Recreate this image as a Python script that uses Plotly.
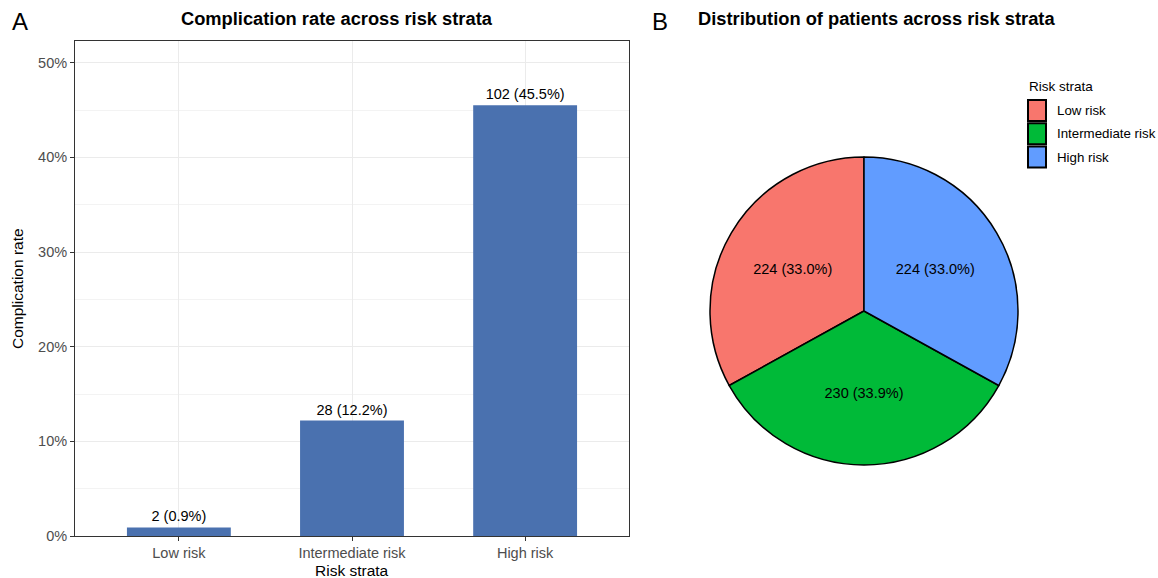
import plotly.graph_objects as go

# Risk strata and outcome data
strata = ["Low risk", "Intermediate risk", "High risk"]
complications = [2, 28, 102]
complication_rate = [0.009, 0.122, 0.455]
patients = [224, 230, 224]
patient_share = [33.0, 33.9, 33.0]
pie_colors = ["#F8766D", "#00BA38", "#619CFF"]
y_ticks = [0, 0.1, 0.2, 0.3, 0.4, 0.5]
y_tick_labels = ["0%", "10%", "20%", "30%", "40%", "50%"]

bar_text = [f"{n} ({r * 100:.1f}%)" for n, r in zip(complications, complication_rate)]
pie_text = [f"{n} ({p:.1f}%)" for n, p in zip(patients, patient_share)]

FONT = "Liberation Sans, Arial, sans-serif"
W, H = 1158, 578


def px(x, y):
    """Convert pixel position (from top-left) to paper coordinates."""
    return x / W, 1 - y / H


fig = go.Figure()

fig.add_trace(go.Bar(
    x=strata, y=complication_rate, width=0.6,
    marker=dict(color="#4A71AF", line=dict(width=0)),
    text=bar_text, textposition="outside", cliponaxis=False,
    textfont=dict(family=FONT, size=14.5, color="#000000"),
    showlegend=False, xaxis="x", yaxis="y",
))

# first slice spans from 12 o'clock counter-clockwise
first_angle = -360 * patients[0] / sum(patients)
fig.add_trace(go.Pie(
    labels=strata, values=patients, sort=False, direction="counterclockwise",
    rotation=first_angle,
    marker=dict(colors=pie_colors, line=dict(color="#000000", width=1.5)),
    text=pie_text, texttemplate="%{text}", textposition="inside",
    insidetextorientation="horizontal",
    textfont=dict(family=FONT, size=14.5, color="#000000"),
    domain=dict(x=[710 / W, 1018 / W], y=[1 - 466 / H, 1 - 156 / H]),
    showlegend=False, hoverinfo="label+value+percent",
))

annotations = []
shapes = []


def add_text(text, x, y, size, xanchor="center", bold=False, angle=0, color="#000000"):
    xp, yp = px(x, y)
    annotations.append(dict(
        text=f"<b>{text}</b>" if bold else text, x=xp, y=yp,
        xref="paper", yref="paper", xanchor=xanchor, yanchor="middle",
        showarrow=False, textangle=angle,
        font=dict(family=FONT, size=size, color=color),
    ))


add_text("A", 20, 21, 24)
add_text("B", 660, 21, 24)
add_text("Complication rate across risk strata", 337, 19, 18.3, bold=True)
add_text("Distribution of patients across risk strata", 876, 19, 18.3, bold=True)
add_text("Risk strata", 352, 570, 15.5)
add_text("Complication rate", 17, 289, 15.5, angle=-90)

# legend for the pie: title, keys and labels
add_text("Risk strata", 1027, 87, 13.5, xanchor="left")
for i, (name, col) in enumerate(zip(strata, pie_colors)):
    top = 100 + i * 23.3
    x0, y1 = px(1028, top)
    x1, y0 = px(1046, top + 21)
    shapes.append(dict(type="rect", xref="paper", yref="paper",
                       x0=x0, x1=x1, y0=y0, y1=y1,
                       fillcolor=col, line=dict(color="#000000", width=2)))
    add_text(name, 1055, top + 10.5, 13.3, xanchor="left")

fig.update_layout(
    width=W, height=H,
    margin=dict(l=0, r=0, t=0, b=0),
    paper_bgcolor="white", plot_bgcolor="white",
    font=dict(family=FONT, color="#000000"),
    showlegend=False,
    xaxis=dict(
        domain=[75 / W, 629 / W], range=[-0.6, 2.6], anchor="y",
        showline=True, mirror=True, linecolor="#333333", linewidth=1,
        showgrid=True, gridcolor="#EBEBEB", gridwidth=1.2,
        ticks="outside", ticklen=4, tickcolor="#333333",
        tickfont=dict(family=FONT, size=14.5, color="#4D4D4D"),
        automargin=False, fixedrange=True,
    ),
    yaxis=dict(
        domain=[1 - 536 / H, 1 - 41 / H], range=[0, 0.523], anchor="x",
        tickvals=y_ticks, ticktext=y_tick_labels,
        showline=True, mirror=True, linecolor="#333333", linewidth=1,
        showgrid=True, gridcolor="#EBEBEB", gridwidth=1.2,
        minor=dict(dtick=0.05, tick0=0, showgrid=True, gridcolor="#F3F3F3", gridwidth=0.6),
        zeroline=False,
        ticks="outside", ticklen=4, tickcolor="#333333",
        tickfont=dict(family=FONT, size=14.5, color="#4D4D4D"),
        automargin=False, fixedrange=True,
    ),
    annotations=annotations,
    shapes=shapes,
)

fig.write_html("out.html")
